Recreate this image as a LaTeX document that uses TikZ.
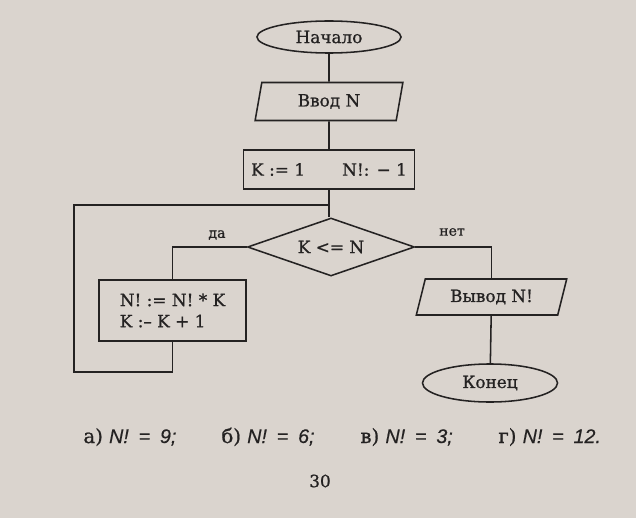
\documentclass[tikz,border=0pt]{standalone}
\usepackage{fontspec}
\setmainfont{DejaVu Serif}[FakeBold=0.9]
\newfontfamily\ansfont{Liberation Sans}[FakeBold=0.4]
\usetikzlibrary{shapes.geometric,positioning,calc}
\definecolor{paper}{RGB}{218,212,206}
\definecolor{ink}{RGB}{36,34,34}

\begin{document}
\begin{tikzpicture}[x=0.025cm, y=-0.025cm, color=ink, line width=1.1pt,
    font=\fontsize{12}{15}\selectfont,
    term/.style={ellipse, draw, inner sep=0pt, minimum width=3.6cm, minimum height=0.8cm},
    io/.style={trapezium, draw, trapezium stretches=true, inner sep=0pt, minimum width=3.7cm, minimum height=0.95cm},
    proc/.style={rectangle, draw, inner sep=0pt, minimum width=4.275cm, minimum height=0.975cm},
    cond/.style={diamond, draw, inner sep=0pt, aspect=2.88, minimum width=4.175cm, minimum height=1.45cm},
    small/.style={font=\fontsize{10}{12}\selectfont},
    answer/.style={anchor=base west, font=\fontsize{14}{16}\selectfont}]
    \fill[paper] (0,0) rectangle (636,518);
    \node[term] (start) at (329,37) {Начало};
    \node[io, trapezium left angle=78, trapezium right angle=102] (input) at (329,101.5) {Ввод N};
    \node[proc] (init) at (329,169.5) {K := 1\hspace{2.2em}N!: − 1};
    \node[cond] (cond) at (331,247) {K <= N};
    \node[proc, minimum width=3.675cm, minimum height=1.525cm, align=left] (body) at (172.5,310.5) {N! := N! * K\\K :– K + 1};
    \node[io, trapezium left angle=69, trapezium right angle=111, minimum width=3.775cm, minimum height=0.9cm] (output) at (491.5,297) {Вывод N!};
    \node[term, minimum width=3.375cm, minimum height=0.95cm] (stop) at (490,383) {Конец};
    \node[small] (yes) at (217,235) {да};
    \node[small] (no) at (452,232) {нет};
    \coordinate (back) at (74,372);
    \coordinate (join) at (329,205);
    \draw (start) -- (input);
    \draw (input) -- (init);
    \draw (init) -- (init |- cond.north);
    \draw (cond.west) -| (body.north);
    \draw (body.south) |- (back) |- (join);
    \draw (cond.east) -| (output.north);
    \draw (output) -- (stop);
    \node[answer] (ansA) at (78,443) {а) {\ansfont\itshape N!\enspace=\enspace9;}};
    \node[answer] (ansB) at (216,443) {б) {\ansfont\itshape N!\enspace=\enspace6;}};
    \node[answer] (ansC) at (355,443) {в) {\ansfont\itshape N!\enspace=\enspace3;}};
    \node[answer] (ansD) at (493,443) {г) {\ansfont\itshape N!\enspace=\enspace12.}};
    \node[font=\fontsize{12}{14}\selectfont] (page) at (320,481) {30};
\end{tikzpicture}
\end{document}
